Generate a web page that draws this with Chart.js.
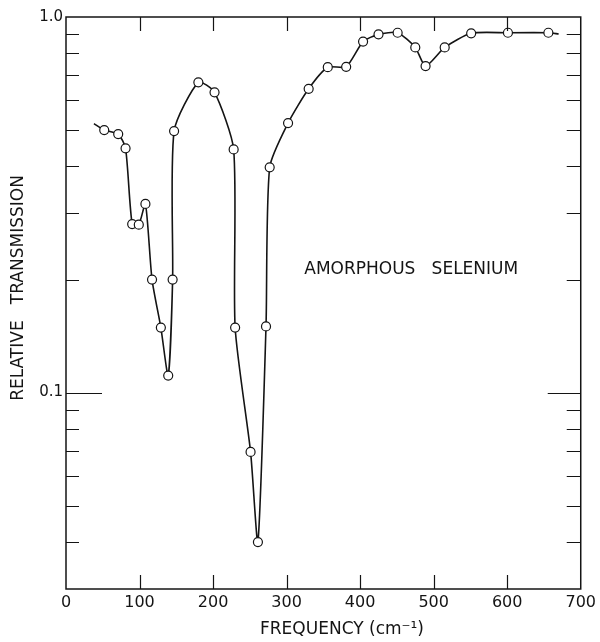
<!DOCTYPE html>
<html>
<head>
<meta charset="utf-8">
<script src="https://cdn.jsdelivr.net/npm/chart.js@4.4.1/dist/chart.umd.min.js"></script>
<style>
  html, body { margin: 0; padding: 0; background: #ffffff; }
  #wrap { width: 600px; height: 642px; }
</style>
</head>
<body>
<div id="wrap"><canvas id="c" width="600" height="642" style="width:600px;height:642px"></canvas></div>
<script>
// ---- data ----
const frequencies = [38, 52, 71, 81, 90, 99, 108, 117, 129, 139, 145, 147, 180, 202, 228, 230, 251, 261, 272, 277, 302, 330, 356, 381, 404, 425, 451, 475, 489, 515, 551, 601, 656, 670];
const transmission = [0.52, 0.50, 0.488, 0.447, 0.281, 0.280, 0.318, 0.200, 0.149, 0.111, 0.200, 0.497, 0.670, 0.630, 0.444, 0.149, 0.0695, 0.040, 0.150, 0.398, 0.522, 0.644, 0.735, 0.737, 0.860, 0.899, 0.908, 0.830, 0.740, 0.830, 0.905, 0.908, 0.908, 0.901];
const xTickValues = [0, 100, 200, 300, 400, 500, 600, 700];
const yTickValues = [0.03, 0.04, 0.05, 0.06, 0.07, 0.08, 0.09, 0.1, 0.2, 0.3, 0.4, 0.5, 0.6, 0.7, 0.8, 0.9, 1.0];
const yLabelledTicks = [1.0, 0.1];
const yLabelText = ['1.0', '0.1'];
const xAxisTitle = 'FREQUENCY (cm\u207B\u00B9)';
const yAxisTitle = 'RELATIVE   TRANSMISSION';
const annotationText = 'AMORPHOUS   SELENIUM';
const annotationAt = [324, 0.213];

const FONT = "'DejaVu Sans', 'Liberation Sans', sans-serif";
const INK = '#141414';

const points = frequencies.map((f, i) => ({ x: f, y: transmission[i] }));
const lastIndex = points.length - 1;

const frameTicks = {
  id: 'frameTicks',
  afterDraw(chart) {
    const { ctx, chartArea: a, scales } = chart;
    const xs = scales.x, ys = scales.y;
    ctx.save();
    ctx.strokeStyle = INK;
    ctx.lineWidth = 1.5;
    ctx.strokeRect(a.left, a.top, a.right - a.left, a.bottom - a.top);
    ctx.lineWidth = 1.2;
    ctx.beginPath();
    xTickValues.forEach(v => {
      if (v === xs.min || v === xs.max) return;
      const px = Math.round(xs.getPixelForValue(v)) + 0.5;
      ctx.moveTo(px, a.bottom); ctx.lineTo(px, a.bottom - 14);
      ctx.moveTo(px, a.top); ctx.lineTo(px, a.top + 14);
    });
    yTickValues.forEach(v => {
      if (Math.abs(v - ys.min) < 1e-9 || Math.abs(v - ys.max) < 1e-9) return;
      const py = Math.round(ys.getPixelForValue(v)) + 0.5;
      const major = Math.abs(v - 0.1) < 1e-9;
      ctx.moveTo(a.left, py); ctx.lineTo(a.left + (major ? 36 : 13), py);
      ctx.moveTo(a.right, py); ctx.lineTo(a.right - (major ? 33 : 14), py);
    });
    ctx.stroke();
    ctx.fillStyle = INK;
    ctx.font = '17px ' + FONT;
    // annotation label
    ctx.textAlign = 'left';
    ctx.textBaseline = 'middle';
    ctx.fillText(annotationText, xs.getPixelForValue(annotationAt[0]), ys.getPixelForValue(annotationAt[1]));
    // x axis title
    ctx.textAlign = 'center';
    ctx.fillText(xAxisTitle, 342, 630);
    // y axis title
    ctx.translate(19, 288);
    ctx.rotate(-Math.PI / 2);
    ctx.fillText(yAxisTitle, 0, 0);
    ctx.restore();
  }
};

new Chart(document.getElementById('c'), {
  type: 'line',
  data: {
    datasets: [{
      data: points,
      borderColor: INK,
      borderWidth: 1.6,
      tension: 0.22,
      pointRadius: c => (c.dataIndex === 0 || c.dataIndex === lastIndex) ? 0 : 4.5,
      pointBackgroundColor: '#ffffff',
      pointBorderColor: INK,
      pointBorderWidth: 1.2,
      fill: false
    }]
  },
  options: {
    responsive: false,
    animation: false,
    devicePixelRatio: 1,
    layout: { padding: { left: 0, right: 18, top: 17, bottom: 0 } },
    plugins: { legend: { display: false }, tooltip: { enabled: false } },
    scales: {
      x: {
        type: 'linear', position: 'bottom', min: 0, max: 700,
        afterBuildTicks: s => { s.ticks = xTickValues.map(v => ({ value: v })); },
        afterFit: s => { s.height = 53; },
        ticks: { color: INK, font: { family: FONT, size: 16 }, padding: 4, maxRotation: 0, autoSkip: false },
        grid: { display: false, drawTicks: false },
        border: { display: false },
        title: { display: false, text: xAxisTitle }
      },
      y: {
        type: 'logarithmic', position: 'left', min: 0.03, max: 1.0,
        afterBuildTicks: s => { s.ticks = yTickValues.map(v => ({ value: v })); },
        afterFit: s => { s.width = 66; },
        ticks: {
          color: INK, font: { family: FONT, size: 15 }, padding: 3, autoSkip: false,
          callback: v => {
            const k = yLabelledTicks.findIndex(t => Math.abs(t - v) < 1e-9);
            return k >= 0 ? yLabelText[k] : '';
          }
        },
        grid: { display: false, drawTicks: false },
        border: { display: false },
        title: { display: false, text: yAxisTitle }
      }
    }
  },
  plugins: [frameTicks]
});
</script>
</body>
</html>
